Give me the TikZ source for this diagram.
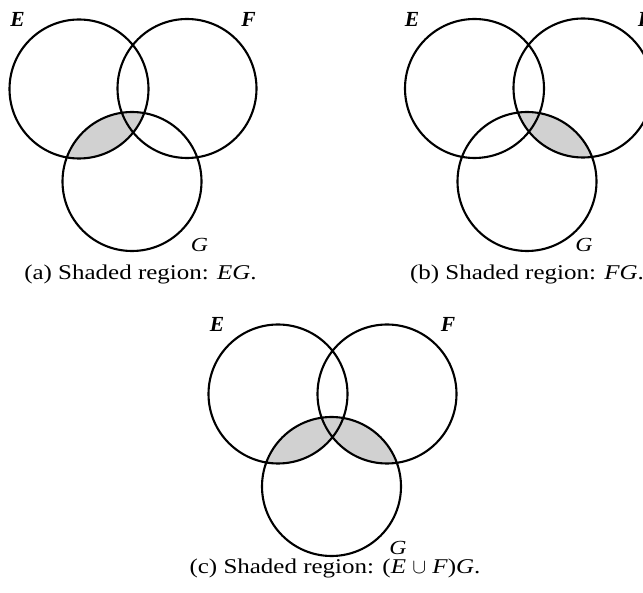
\documentclass[tikz,border=0pt]{standalone}
\usepackage{fontspec}
\setmainfont{Liberation Serif}
\newfontfamily\capfont[FakeStretch=1.19]{Liberation Serif}
\begin{document}
\begin{tikzpicture}[x=1pt,y=-1pt,
  venn/.style={line width=2.1pt},
  shadereg/.style={fill=black!18},
  lab/.style={font=\fontsize{21.5}{21.5}\selectfont\bfseries\itshape, inner sep=0pt, anchor=base},
  labg/.style={font=\capfont\fontsize{20}{20}\selectfont\itshape, inner sep=0pt, anchor=base},
  captext/.style={font=\capfont\fontsize{21}{21}\selectfont, inner sep=0pt, anchor=base}]
\useasboundingbox (0,0) rectangle (643,593);
\def\rr{69.5}
% ---------- (a) ----------
\coordinate (Ea) at (79,89);
\coordinate (Fa) at (187,88.5);
\coordinate (Ga) at (132,181.5);
\begin{scope}
  \clip (Ea) circle (\rr);
  \fill[shadereg] (Ga) circle (\rr);
\end{scope}
\draw[venn] (Ea) circle (\rr) (Fa) circle (\rr) (Ga) circle (\rr);
\node[lab] (lEa) at (17.5,26.5) {E};
\node[lab] (lFa) at (248.5,26.5) {F};
\node[labg] (lGa) at (199.5,252) {G};
\node[captext] (capa) at (140.5,279.5) {(a) Shaded region: \textit{EG}.};
% ---------- (b) ----------
\coordinate (Eb) at (474.5,88.5);
\coordinate (Fb) at (583,88);
\coordinate (Gb) at (527,181.5);
\begin{scope}
  \clip (Fb) circle (\rr);
  \fill[shadereg] (Gb) circle (\rr);
\end{scope}
\draw[venn] (Eb) circle (\rr) (Fb) circle (\rr) (Gb) circle (\rr);
\node[lab] (lEb) at (412,26.5) {E};
\node[lab] (lFb) at (645,26.5) {F};
\node[labg] (lGb) at (584,252) {G};
\node[captext] (capb) at (527,279.5) {(b) Shaded region: \textit{FG}.};
% ---------- (c) ----------
\coordinate (Ec) at (278,394);
\coordinate (Fc) at (387,394);
\coordinate (Gc) at (331.5,486.5);
\begin{scope}
  \clip (Gc) circle (\rr);
  \fill[shadereg] (Ec) circle (\rr) (Fc) circle (\rr);
\end{scope}
\draw[venn] (Ec) circle (\rr) (Fc) circle (\rr) (Gc) circle (\rr);
\node[lab] (lEc) at (217,331.5) {E};
\node[lab] (lFc) at (448,331.5) {F};
\node[labg] (lGc) at (398,554.5) {G};
\node[captext] (capc) at (335,573.5) {(c) Shaded region: (\textit{E} $\cup$ \textit{F\/})\textit{G}.};
\end{tikzpicture}
\end{document}
